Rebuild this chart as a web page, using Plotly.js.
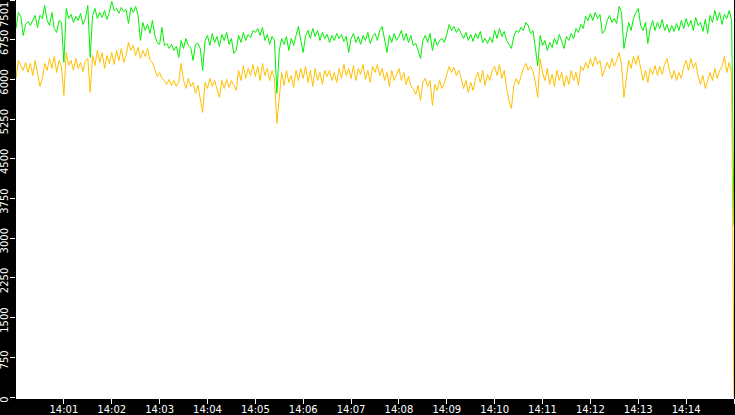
<!DOCTYPE html>
<html>
<head>
<meta charset="utf-8">
<script src="https://cdn.plot.ly/plotly-3.0.1.min.js"></script>
<style>
  html, body { margin: 0; padding: 0; background: #000; }
  #chart { width: 735px; height: 415px; }
</style>
</head>
<body>
<div id="chart"></div>
<script>
// Sampling: one value every 3 seconds starting at 14:00:00
const dayPrefix = "2024-01-01 ";
const stepSeconds = 3;

// Green series (upper)
const greenValues = [
  6963,7265,7190,6831,7039,7095,7020,7133,7209,6982,
  7209,7152,7398,7114,7020,7265,6963,6888,7114,7077,
  6321,7341,7152,7228,7077,7190,7114,7247,7039,7152,
  7398,6416,7209,7341,7152,7265,7171,7303,7133,7265,
  7473,7303,7341,7247,7360,7284,7322,7058,7360,7265,
  7379,7209,6737,7077,6925,7039,6869,7114,6831,6699,
  6662,6982,6642,6680,6586,6662,6548,6623,6416,6737,
  6586,6774,6642,6604,6359,6662,6680,6586,6170,6737,
  6831,6642,6869,6699,6812,6623,6850,6737,6888,6662,
  6774,6491,6548,6831,6699,6888,6737,6850,6793,6925,
  6888,6963,6831,6982,6737,6850,6662,6812,6737,5736,
  6548,6774,6662,6812,6548,6774,6642,6831,7001,6737,
  6510,6831,6925,6774,6963,6812,6925,6737,6888,6774,
  6850,6699,6831,6737,6869,6774,6850,6718,6812,6510,
  6774,6869,6699,6812,6662,6831,6737,6888,6680,6812,
  6869,6737,6925,7001,6774,6510,6831,6699,6869,6737,
  6812,6925,6737,6869,6699,6831,6642,6680,6548,6397,
  6737,6831,6699,6869,6548,6774,6642,6737,6774,6699,
  6850,7039,6925,7001,6888,6963,6869,6774,6888,6737,
  6850,6718,6869,6774,6907,6699,6774,6680,6793,6699,
  6925,6774,6963,6812,6907,6737,6662,6586,6812,6925,
  6888,6982,6925,7077,7020,6869,6925,6586,6264,6831,
  6642,6737,6548,6699,6604,6774,6662,6850,6699,6586,
  6812,6737,6869,6774,6963,6888,7039,6963,7190,7114,
  7247,7114,7265,7152,7228,6869,6925,7114,7209,7077,
  7152,7058,7379,7265,6586,6831,7077,6925,7152,7265,
  7341,7020,6925,7077,6680,6963,7114,6925,7077,6963,
  7133,6925,7039,6888,7020,6907,7058,6925,7114,6963,
  7152,7001,7114,6925,7171,7020,7077,6907,7133,6869,
  7209,7077,7303,7114,7265,7039,7228,7152,7303,7114,
  3240
];

// Yellow series (lower)
const yellowValues = [
  6019,6359,6264,6170,6321,6132,6302,6076,6359,6095,
  5868,6019,6302,6170,6397,6208,6434,6132,6359,6246,
  5698,6510,6264,6359,6170,6397,6208,6321,6151,6359,
  6397,5755,6453,6264,6548,6321,6510,6208,6453,6302,
  6510,6283,6548,6359,6586,6321,6453,6699,6548,6642,
  6453,6604,6397,6548,6434,6586,6359,6321,6170,6057,
  6132,6019,5981,5906,6000,5887,5981,5868,5962,6302,
  5981,5830,6019,5868,5943,5736,5887,5603,5377,5943,
  5830,6019,5868,5981,5792,5660,5981,5830,6000,5849,
  5981,5887,5792,6170,5981,6264,6019,6208,6076,6283,
  6057,6246,5981,6302,6076,6208,5981,6170,6019,5169,
  5603,6132,5887,6170,5943,6076,5849,6170,5981,6208,
  6019,6246,5943,6170,5868,6208,5981,6132,5906,6170,
  6057,6170,5981,6132,5943,6208,6019,6283,6076,6208,
  6019,6264,5981,6208,6095,6283,6000,6170,5943,6246,
  6132,6283,6076,6208,5981,6132,5868,6170,5981,6095,
  6208,5981,6132,5906,6057,5868,5830,5717,5887,5603,
  5943,6019,5868,5981,5509,5906,5792,5981,5830,5943,
  6076,6246,6132,6227,6076,6170,6019,5830,5981,5755,
  5943,5792,6019,6132,5943,6170,5887,6095,5981,6170,
  6246,6076,6283,6019,6170,5830,5603,5452,5887,6019,
  5906,6076,6208,6302,6170,6246,6151,5943,5660,6397,
  6132,5981,6208,5906,6095,5868,6170,5981,6132,5868,
  6076,5906,6170,5981,6132,5887,6246,6170,6321,6208,
  6397,6246,6434,6283,6359,6057,6170,6321,6208,6397,
  6246,6359,6510,6283,5660,6019,6359,6208,6434,6283,
  6453,6208,5981,6170,5943,6208,6095,6264,6076,6246,
  6095,6283,6397,6170,6019,6170,5981,6132,6019,6246,
  6359,6170,6397,6208,6321,6057,5906,6076,5830,5981,
  6132,5981,6208,6019,6170,6246,6434,6132,6321,6095,
  0
];

// Axis ticks
const yTickValues = [0, 750, 1500, 2250, 3000, 3750, 4500, 5250, 6000, 6750, 7501];
const yTickLabels = ["0", "750", "1500", "2250", "3000", "3750", "4500", "5250", "6000", "6750", ""];
const yTopLabel = "7501";
const yMax = 7501;
const xTickLabels = ["14:01","14:02","14:03","14:04","14:05","14:06","14:07","14:08",
                     "14:09","14:10","14:11","14:12","14:13","14:14","14:15"];
const xStart = "2024-01-01 14:00:00";
const xEnd = "2024-01-01 14:15:00";

function pad(n) { return (n < 10 ? "0" : "") + n; }
function timeAt(i) {
  const total = 14 * 3600 + i * stepSeconds;
  const h = Math.floor(total / 3600), m = Math.floor((total % 3600) / 60), s = total % 60;
  return dayPrefix + pad(h) + ":" + pad(m) + ":" + pad(s);
}
const times = greenValues.map((_, i) => timeAt(i));
const xTickValues = xTickLabels.map(l => dayPrefix + l + ":00");

const traces = [
  { x: times, y: greenValues, type: "scatter", mode: "lines",
    line: { color: "#00f000", width: 1 }, hoverinfo: "skip" },
  { x: times, y: yellowValues, type: "scatter", mode: "lines",
    line: { color: "#ffc000", width: 1 }, hoverinfo: "skip" }
];

const layout = {
  width: 735, height: 415,
  paper_bgcolor: "#000000",
  plot_bgcolor: "#ffffff",
  margin: { l: 16, r: 1, t: 0, b: 18, pad: 0 },
  showlegend: false,
  font: { family: "DejaVu Sans", color: "#ffffff", size: 10 },
  xaxis: {
    type: "date",
    range: [xStart, xEnd],
    tickmode: "array",
    tickvals: xTickValues,
    ticktext: xTickLabels,
    showgrid: false, zeroline: false,
    showline: true, linecolor: "#ffffff", linewidth: 2,
    ticks: "outside", ticklen: 5, tickcolor: "#ffffff", tickwidth: 1,
    ticklabelstandoff: -3,
    tickfont: { family: "DejaVu Sans", size: 10, color: "#ffffff" },
    fixedrange: true
  },
  yaxis: {
    range: [0, yMax],
    tickmode: "array",
    tickvals: yTickValues,
    ticktext: yTickLabels,
    tickangle: -90,
    ticklabelshift: 4,
    ticklabelstandoff: -2,
    showgrid: false, zeroline: false, showline: false,
    ticks: "outside", ticklen: 5, tickcolor: "#ffffff", tickwidth: 1,
    tickfont: { family: "DejaVu Sans", size: 10, color: "#ffffff" },
    fixedrange: true
  },
  annotations: [{
    text: yTopLabel, xref: "paper", yref: "paper",
    x: 0, y: 1, xanchor: "right", yanchor: "top", xshift: -4, yshift: 0,
    textangle: -90, showarrow: false,
    font: { family: "DejaVu Sans", size: 10, color: "#ffffff" }
  }]
};

Plotly.newPlot("chart", traces, layout, { displayModeBar: false, staticPlot: true });
</script>
</body>
</html>
